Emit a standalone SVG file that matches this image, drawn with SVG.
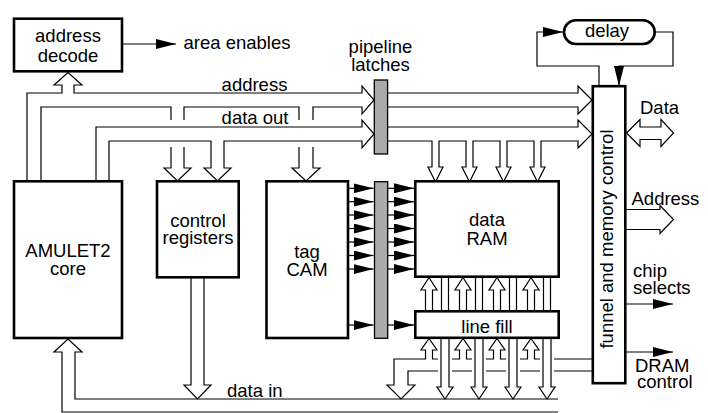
<svg xmlns="http://www.w3.org/2000/svg" width="708" height="413" viewBox="0 0 708 413">
<style>
.box{fill:#fff;stroke:#000;stroke-width:2.6}
.latch{fill:#aaa;stroke:#000;stroke-width:1.3}
.ln{fill:none;stroke:#000;stroke-width:1.2}
.hol{fill:#fff;stroke:#000;stroke-width:1.2}
.ar{fill:none;stroke:#000;stroke-width:1.2;marker-end:url(#ah)}
text{font-family:"Liberation Sans",Arial,sans-serif;font-size:18.5px;fill:#000}
.c{text-anchor:middle}
</style>
<defs>
<marker id="ah" markerUnits="userSpaceOnUse" markerWidth="20" markerHeight="10" viewBox="0 0 20 10" refX="20" refY="5" orient="auto">
<path d="M0,0 L20,5 L0,10 Z" fill="#000"/>
</marker>
</defs>

<g id="connectors">
<!-- address bus before latch -->
<path class="ln" d="M27,181 V93 H62 V85 H54 L68,72.5 L82,85 H74 V93 H362 V86 L374,100 L362,114 V107 H313 V120"/>
<path class="ln" d="M313,147 V168 H320 L306,181 L292,168 H299 V147"/>
<path class="ln" d="M299,120 V107 H184 V120"/>
<path class="ln" d="M184,147 V168 H191 L177.5,181 L164,168 H171 V147"/>
<path class="ln" d="M171,120 V107 H41 V181"/>
<!-- data out bus before latch -->
<path class="ln" d="M96,181 V127 H362 V120 L374,134 L362,148 V141 H224 V168 H231 L217.5,181 L204,168 H211 V141 H109 V181"/>
<!-- after latch -->
<path class="ln" d="M388,93 H578 V86 L592,100 L578,114 V107 H388"/>
<path class="ln" d="M388,127 H578 V120 L592,134 L578,148 V141 H541 V167 H545 L537.5,182 L530,167 H534 V141 H507 V167 H511 L503.5,182 L496,167 H500 V141 H473 V167 H477 L469.5,182 L462,167 H466 V141 H439 V167 H443 L435.5,182 L428,167 H432 V141 H388"/>
<!-- area enables -->
<path class="ar" d="M123,44 H176"/>
<!-- delay loop -->
<path class="ar" d="M599,86 V66 H537 V32 H563"/>
<path class="ar" d="M655,32 H673 V66 H619 V86"/>
<!-- tag CAM to latch to data RAM -->
<path class="ar" d="M348,188.3 H373.5"/>
<path class="ar" d="M348,201.7 H373.5"/>
<path class="ar" d="M348,215 H373.5"/>
<path class="ar" d="M348,228.5 H373.5"/>
<path class="ar" d="M348,242 H373.5"/>
<path class="ar" d="M348,255.5 H373.5"/>
<path class="ar" d="M348,269 H373.5"/>
<path class="ar" d="M348,325 H373.5"/>
<path class="ar" d="M388,188.3 H414"/>
<path class="ar" d="M388,201.7 H414"/>
<path class="ar" d="M388,215 H414"/>
<path class="ar" d="M388,228.5 H414"/>
<path class="ar" d="M388,242 H414"/>
<path class="ar" d="M388,255.5 H414"/>
<path class="ar" d="M388,269 H414"/>
<path class="ar" d="M388,325 H414"/>
<!-- data RAM to line fill -->
<path class="ln" d="M425.5,311 V290 H421 L429,277.5 L437,290 H432.5 V311"/>
<path class="ln" d="M459.5,311 V290 H455 L463,277.5 L471,290 H466.5 V311"/>
<path class="ln" d="M493.5,311 V290 H489 L497,277.5 L505,290 H500.5 V311"/>
<path class="ln" d="M527.5,311 V290 H523 L531,277.5 L539,290 H534.5 V311"/>
<path class="ln" d="M441.5,277.5 V311 M448.5,277.5 V311 M475.5,277.5 V311 M482.5,277.5 V311 M509.5,277.5 V311 M516.5,277.5 V311 M543.5,277.5 V311 M550.5,277.5 V311"/>
<!-- below line fill -->
<path class="ln" d="M438,371 H408 V385 H415 L401,399 L387,385 H394 V359 H425.5 V350 H421 L429,338.5 L437,350 H432.5 V359 H438"/>
<path class="ln" d="M452,359 H459.5 V350 H455 L463,338.5 L471,350 H466.5 V359 H472"/>
<path class="ln" d="M486,359 H493.5 V350 H489 L497,338.5 L505,350 H500.5 V359 H506"/>
<path class="ln" d="M520,359 H527.5 V350 H523 L531,338.5 L539,350 H534.5 V359 H540"/>
<path class="ln" d="M554,359 H592.5"/>
<path class="ln" d="M452,371 H472 M486,371 H506 M520,371 H540 M554,371 H592.5"/>
<path class="ln" d="M441,338.5 V387 H437 L445,399 L453,387 H449 V338.5"/>
<path class="ln" d="M475,338.5 V387 H471 L479,399 L487,387 H483 V338.5"/>
<path class="ln" d="M509,338.5 V387 H505 L513,399 L521,387 H517 V338.5"/>
<path class="ln" d="M543,338.5 V387 H539 L547,399 L555,387 H551 V338.5"/>
<!-- data in bus and core input -->
<path class="ln" d="M558,412 H62 V352 H54 L68,339 L82,352 H75 V399 H558"/>
<path class="ln" d="M191,277 V385 H184 L197.5,399 L211,385 H204 V277"/>
<!-- funnel outputs -->
<path class="hol" d="M626.5,133 L640,119.5 V127 H661 V119.5 L673.5,133 L661,146.5 V139.5 H640 V146.5 Z"/>
<path class="ln" d="M626.5,209.5 H660 V205.5 L673.5,219.5 L660,233.5 V229.5 H626.5"/>
<path class="ar" d="M626.5,304 H673"/>
<path class="ar" d="M626.5,352 H673"/>
</g>

<g id="labels">
<text x="183.5" y="49.3">area enables</text>
<text x="221.6" y="90.8">address</text>
<text x="221.6" y="124">data out</text>
<text x="227" y="396.7">data in</text>
<text x="640" y="114">Data</text>
<text x="631.5" y="205">Address</text>
<text x="633" y="277">chip</text>
<text x="633" y="294">selects</text>
<text x="635" y="372">DRAM</text>
<text x="637" y="388">control</text>
</g>

<g id="address-decode">
<rect class="box" x="14" y="18.7" width="108" height="52.6"/>
<text class="c" x="68" y="41.7">address</text>
<text class="c" x="68" y="61.7">decode</text>
</g>
<g id="amulet2-core">
<rect class="box" x="14" y="181.3" width="108" height="156.7"/>
<text class="c" x="68" y="257.3">AMULET2</text>
<text class="c" x="68" y="275">core</text>
</g>
<g id="control-registers">
<rect class="box" x="157" y="181.3" width="81.7" height="96"/>
<text class="c" x="198" y="226.7">control</text>
<text class="c" x="198" y="244">registers</text>
</g>
<g id="tag-cam">
<rect class="box" x="266.5" y="181.3" width="81.5" height="156.7"/>
<text class="c" x="307" y="258.3">tag</text>
<text class="c" x="307" y="276">CAM</text>
</g>
<g id="pipeline-latches">
<rect class="latch" x="374.3" y="80" width="13.3" height="74"/>
<rect class="latch" x="374.5" y="181.7" width="13.2" height="156.6"/>
<text class="c" x="380.5" y="53">pipeline</text>
<text class="c" x="380.5" y="70.5">latches</text>
</g>
<g id="data-ram">
<rect class="box" x="415.3" y="181.3" width="143.4" height="95.4"/>
<text class="c" x="487" y="226">data</text>
<text class="c" x="487" y="245">RAM</text>
</g>
<g id="line-fill">
<rect class="box" x="415.3" y="311.3" width="143.4" height="26.5"/>
<text class="c" x="487" y="333">line fill</text>
</g>
<g id="funnel-memory-control">
<rect class="box" x="592.8" y="86.2" width="32.5" height="297"/>
<text class="c" transform="translate(613,239) rotate(-90)">funnel and memory control</text>
</g>
<g id="delay">
<rect class="box" x="564" y="20.3" width="90.7" height="23.7" rx="11.8"/>
<text class="c" x="607" y="37">delay</text>
</g>
</svg>
